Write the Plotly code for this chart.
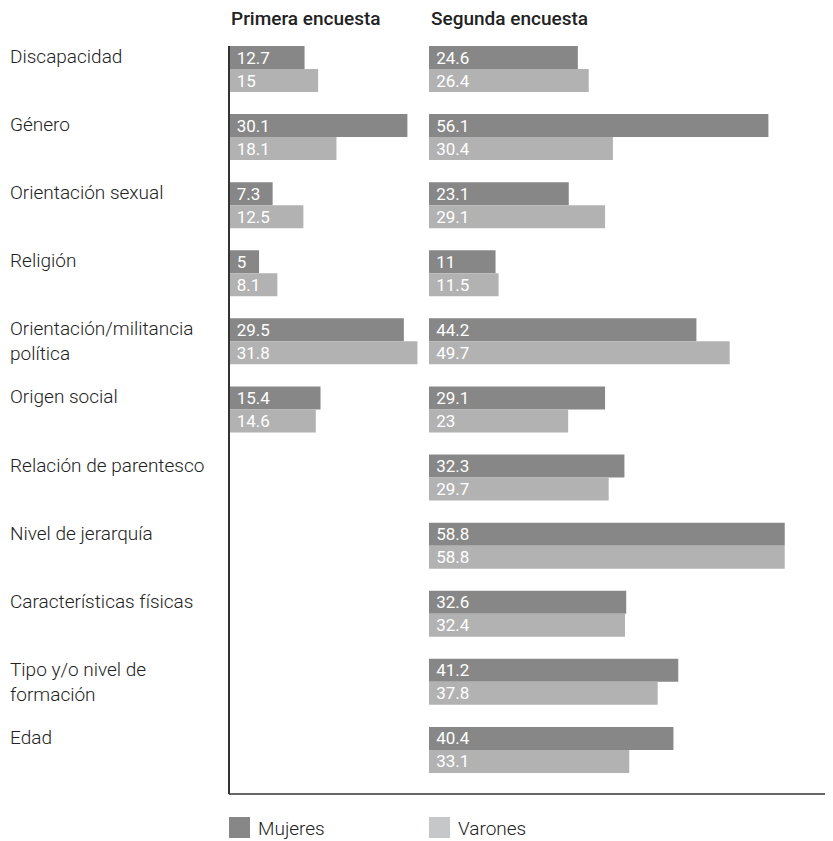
import plotly.graph_objects as go

# the page body adds an 8 px margin at the top-left; the figure is sized so it
# ends at the window edge and every reference pixel position is shifted by it
PAGE_W, PAGE_H = 833, 841
PAD = 8
W, H = PAGE_W - PAD, PAGE_H - PAD

MUJERES_COLOR = "#878787"
VARONES_COLOR = "#b2b2b2"
VARONES_SWATCH = "#c6c7c8"
TEXT_COLOR = "#222222"
LINE_COLOR = "#333333"
FONT = "Roboto"

categorias = [
    "Discapacidad",
    "Género",
    "Orientación sexual",
    "Religión",
    "Orientación/militancia<br>política",
    "Origen social",
    "Relación de parentesco",
    "Nivel de jerarquía",
    "Características físicas",
    "Tipo y/o nivel de<br>formación",
    "Edad",
]

# Primera encuesta: only the first six categories were asked
primera_mujeres = [12.7, 30.1, 7.3, 5, 29.5, 15.4]
primera_varones = [15, 18.1, 12.5, 8.1, 31.8, 14.6]

segunda_mujeres = [24.6, 56.1, 23.1, 11, 44.2, 29.1, 32.3, 58.8, 32.6, 41.2, 40.4]
segunda_varones = [26.4, 30.4, 29.1, 11.5, 49.7, 23, 29.7, 58.8, 32.4, 37.8, 33.1]


def px_x(p):
    return min(max((p - PAD) / W, 0), 1)


def px_y(p):
    return min(max(1 - (p - PAD) / H, 0), 1)


# pixel geometry of the plot (page pixels)
LEFT1, SCALE1 = 229.5, 5.91
LEFT2, SCALE2 = 429.0, 6.05
TOP, BOTTOM = 46.0, 794.0
RANGE1 = 32.0
RANGE2 = (PAGE_W - LEFT2) / SCALE2

ids = list(range(len(categorias)))
n1 = len(primera_mujeres)


def bar(x, y, color, name, xaxis):
    return go.Bar(
        x=x, y=y, orientation="h",
        name=name, showlegend=False,
        marker=dict(color=color, line=dict(width=0)),
        texttemplate="\u00a0%{x}",
        textposition="inside",
        insidetextanchor="start",
        textangle=0,
        constraintext="none",
        textfont=dict(color="white", size=17, family=FONT),
        xaxis=xaxis, yaxis="y",
        hoverinfo="skip",
    )


fig = go.Figure()
fig.add_trace(bar(primera_mujeres, ids[:n1], MUJERES_COLOR, "Mujeres", "x"))
fig.add_trace(bar(primera_varones, ids[:n1], VARONES_COLOR, "Varones", "x"))
fig.add_trace(bar(segunda_mujeres, ids, MUJERES_COLOR, "Mujeres", "x2"))
fig.add_trace(bar(segunda_varones, ids, VARONES_COLOR, "Varones", "x2"))

# bar thickness 23 px in a 68 px slot, group sits at the top of its slot
unit = (BOTTOM - TOP) / (len(categorias) - 1 + 0.338 + 0.647)
half = 23 / unit
y_top = -half
y_bottom = y_top + (BOTTOM - TOP) / unit

annotations = []
for i, cat in enumerate(categorias):
    lines = cat.count("<br>") + 1
    shift = 11.5 - (lines - 1) * 19 * 1.3 / 2 + 1
    annotations.append(dict(
        x=px_x(8), xref="paper", xanchor="left",
        y=i, yref="y", yanchor="middle", yshift=shift,
        text=cat, showarrow=False, align="left",
        font=dict(size=19, color=TEXT_COLOR, family=FONT, weight=300),
    ))

for x0, title in [(LEFT1 - 0.5, "Primera encuesta"), (LEFT2, "Segunda encuesta")]:
    annotations.append(dict(
        x=px_x(x0), xref="paper", xanchor="left",
        y=px_y(19), yref="paper", yanchor="middle",
        text=title, showarrow=False,
        font=dict(size=19, color=TEXT_COLOR, family=FONT, weight=500),
    ))

shapes = [
    dict(type="line", xref="paper", yref="paper",
         x0=px_x(LEFT1 - 0.5), x1=1, y0=px_y(BOTTOM), y1=px_y(BOTTOM),
         line=dict(color=LINE_COLOR, width=1.5)),
]

# legend swatches
for x0, color, name in [(LEFT1 - 0.5, MUJERES_COLOR, "Mujeres"), (LEFT2, VARONES_SWATCH, "Varones")]:
    shapes.append(dict(
        type="rect", xref="paper", yref="paper",
        x0=px_x(x0), x1=px_x(x0 + 21), y0=px_y(838), y1=px_y(817),
        fillcolor=color, line=dict(width=0),
    ))
    annotations.append(dict(
        x=px_x(x0 + 27), xref="paper", xanchor="left",
        y=px_y(828), yref="paper", yanchor="middle",
        text=name, showarrow=False,
        font=dict(size=19, color=TEXT_COLOR, family=FONT, weight=300),
    ))

fig.update_layout(
    width=W, height=H,
    margin=dict(l=0, r=0, t=0, b=0),
    paper_bgcolor="white",
    plot_bgcolor="white",
    barmode="group",
    bargap=1 - 2 * half,
    bargroupgap=0,
    showlegend=False,
    font=dict(family=FONT, color=TEXT_COLOR),
    xaxis=dict(domain=[px_x(LEFT1), px_x(LEFT1 + RANGE1 * SCALE1)], range=[0, RANGE1],
               visible=False, fixedrange=True),
    xaxis2=dict(domain=[px_x(LEFT2), 1], range=[0, RANGE2],
                visible=False, fixedrange=True),
    yaxis=dict(domain=[px_y(BOTTOM), px_y(TOP)], range=[y_bottom, y_top],
               showticklabels=False, showgrid=False, zeroline=False, ticks="",
               showline=True, linecolor=LINE_COLOR, linewidth=1.5, fixedrange=True),
    annotations=annotations,
    shapes=shapes,
)

fig.write_html("out.html")
